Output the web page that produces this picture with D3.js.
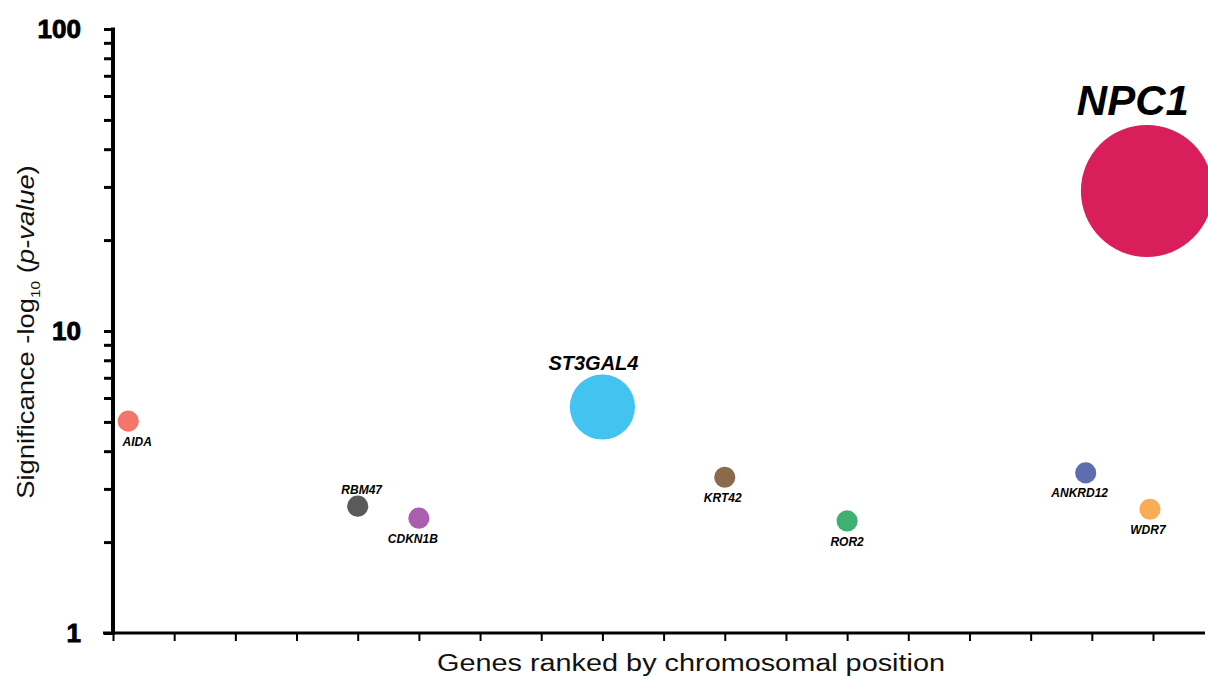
<!DOCTYPE html>
<html>
<head>
<meta charset="utf-8">
<script src="https://cdn.jsdelivr.net/npm/d3@7/dist/d3.min.js"></script>
<style>
  body { margin: 0; background: #fff; }
  svg { display: block; }
</style>
</head>
<body>
<svg width="1208" height="680"></svg>
<script>
// gene data
var genes = ["AIDA", "RBM47", "CDKN1B", "ST3GAL4", "KRT42", "ROR2", "ANKRD12", "WDR7", "NPC1"];
var rank = [0.25, 4, 5, 8, 10, 12, 15.9, 16.95, 16.9];            // position along chromosome (tick units)
var significance = [5.03, 2.63, 2.40, 5.6, 3.28, 2.35, 3.39, 2.57, 29.1];  // -log10(p)
var weight = [1, 1, 1, 9.5, 1, 1, 1, 1, 39];                     // bubble size
var colors = ["#f4756a", "#5a5a5a", "#a95fae", "#42c3f0", "#8b6a4c", "#3db072", "#5f6cb0", "#f8ac56", "#d81e5b"];
var yTickLabels = [1, 10, 100];
var xTickValues = d3.range(0, 18);

// label placement (above / below + small x nudge)
var labelSide = ["below", "above", "below", "above", "below", "below", "below", "below", "above"];
var labelDx = [9, 4, -6, -9, -2, 0, -6, -2, -14];

var svg = d3.select("svg");
var x0 = 113, yTop = 29, yBot = 633;

var x = d3.scaleLinear().domain([0, 17.85]).range([x0, 1205]);
var y = d3.scaleLog().domain([1, 100]).range([yBot, yTop]);
var r = d3.scaleSqrt().domain([0, 39]).range([0, 66]);

// minor ticks on the log axis
var yMinor = [];
[1, 10].forEach(function(d) { for (var k = 1; k <= 10; k++) yMinor.push(d * k); });

var yAxis = svg.append("g").attr("transform", "translate(" + x0 + ",0)")
  .call(d3.axisLeft(y).tickValues(yMinor).tickSize(9).tickFormat(""));
yAxis.select(".domain").remove();
yAxis.selectAll(".tick line").attr("stroke", "#000").attr("stroke-width", 3);

svg.append("line")
  .attr("x1", x0).attr("x2", x0).attr("y1", yTop - 1.5).attr("y2", yBot + 2)
  .attr("stroke", "#000").attr("stroke-width", 4);

svg.selectAll(".ylab").data(yTickLabels).enter().append("text")
  .attr("class", "ylab")
  .attr("x", 81)
  .attr("y", function(d) { return y(d) + 9; })
  .attr("text-anchor", "end")
  .attr("font-family", "Liberation Sans, Arial, sans-serif")
  .attr("font-weight", "bold")
  .attr("font-size", 26)
  .attr("stroke", "#000").attr("stroke-width", 0.9)
  .text(function(d) { return d; });

// x axis
var xAxis = svg.append("g").attr("transform", "translate(0," + yBot + ")")
  .call(d3.axisBottom(x).tickValues(xTickValues).tickSize(8).tickFormat(""));
xAxis.select(".domain").remove();
xAxis.selectAll(".tick line").attr("stroke", "#000").attr("stroke-width", 2);
svg.append("line")
  .attr("x1", 103).attr("x2", 1205).attr("y1", yBot).attr("y2", yBot)
  .attr("stroke", "#000").attr("stroke-width", 3);

// axis titles (the original font runs wider, so stretch a little)
svg.append("text")
  .attr("x", 437).attr("y", 671)
  .attr("textLength", 508)
  .attr("lengthAdjust", "spacingAndGlyphs")
  .attr("font-family", "Liberation Sans, Arial, sans-serif")
  .attr("font-size", 23)
  .attr("fill", "#111")
  .text("Genes ranked by chromosomal position");

var yt = svg.append("text")
  .attr("transform", "translate(34,332) rotate(-90) scale(1.19,1)")
  .attr("text-anchor", "middle")
  .attr("font-family", "Liberation Sans, Arial, sans-serif")
  .attr("font-size", 23)
  .attr("fill", "#111");
yt.append("tspan").text("Significance -log");
yt.append("tspan").attr("font-size", 13).attr("dy", 6).text("10");
yt.append("tspan").attr("dy", -6).text(" (");
yt.append("tspan").attr("font-style", "italic").text("p-value");
yt.append("tspan").text(")");

// bubbles
var idx = d3.range(genes.length);
svg.selectAll(".bubble").data(idx).enter().append("circle")
  .attr("class", "bubble")
  .attr("cx", function(i) { return x(rank[i]); })
  .attr("cy", function(i) { return y(significance[i]); })
  .attr("r", function(i) { return r(weight[i]); })
  .attr("fill", function(i) { return colors[i]; });

// gene names
svg.selectAll(".gene").data(idx).enter().append("text")
  .attr("class", "gene")
  .attr("x", function(i) { return x(rank[i]) + labelDx[i]; })
  .attr("y", function(i) {
    var cy = y(significance[i]), rr = r(weight[i]);
    if (labelSide[i] == "below") return cy + rr + 14;
    return cy - rr - rr * 0.15;
  })
  .attr("text-anchor", "middle")
  .attr("font-family", "Liberation Sans, Arial, sans-serif")
  .attr("font-weight", "bold")
  .attr("font-style", "italic")
  .attr("font-size", function(i) { return weight[i] > 20 ? 42 : (weight[i] > 5 ? 20 : 12); })
  .attr("fill", "#000")
  .text(function(i) { return genes[i]; });
</script>
</body>
</html>
